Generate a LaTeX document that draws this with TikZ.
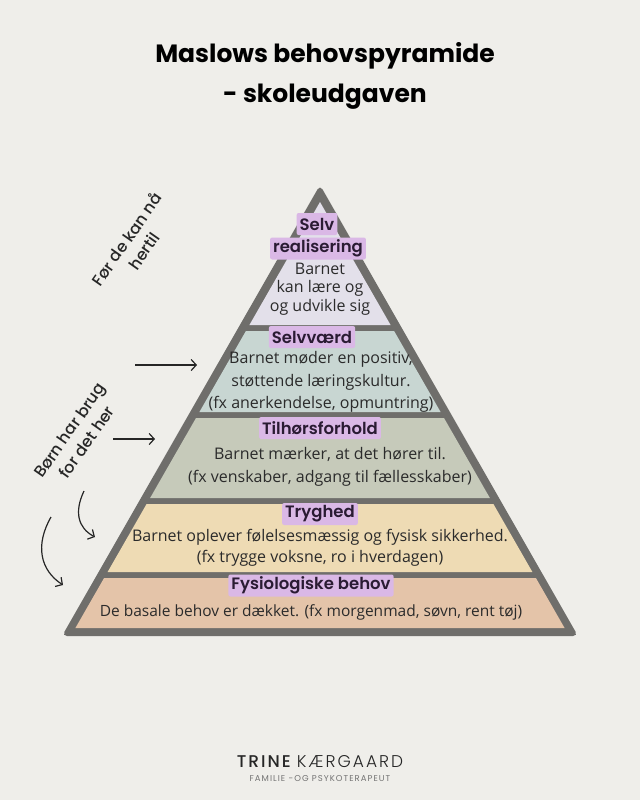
\documentclass[tikz,border=0pt]{standalone}
\usepackage{fontspec}
\setmainfont{Open Sans}
\newfontfamily\popfont{Poppins}
\newfontfamily\headfont{Poppins SemiBold}
\newfontfamily\sidefont{Poppins Medium}
\newfontfamily\footfont{Poppins Light}[LetterSpace=12]
\newfontfamily\footbold{Poppins Medium}[LetterSpace=12]
\newfontfamily\footsmall{Poppins}[LetterSpace=12]
\usetikzlibrary{arrows.meta}
\definecolor{bg}{HTML}{EFEEEA}
\definecolor{framec}{HTML}{6F6E6B}
\definecolor{lay1}{HTML}{E3E0EA}
\definecolor{lay2}{HTML}{C8D6D2}
\definecolor{lay3}{HTML}{C6CABA}
\definecolor{lay4}{HTML}{EEDBB4}
\definecolor{lay5}{HTML}{E4C4A9}
\definecolor{hl}{HTML}{DAB8E6}
\definecolor{headtxt}{HTML}{2A1B33}
\definecolor{bodytxt}{HTML}{2B2B2B}
\begin{document}
\begin{tikzpicture}[x=1pt,y=-1pt,
  head/.style={fill=hl, rounded corners=2pt, inner xsep=3pt, inner ysep=2pt, text=headtxt,
    font=\headfont\fontsize{16.5}{19}\selectfont, minimum height=22pt},
  body/.style={align=center, text=bodytxt, font=\fontsize{16}{22.5}\selectfont, inner sep=0pt},
  side/.style={align=center, text=black!85, font=\sidefont\fontsize{16}{21}\selectfont, rotate=55, inner sep=0pt},
  arr/.style={-{Straight Barb[length=5pt,width=11pt]}, line width=1.2pt, black!85}
]
\fill[bg] (0,0) rectangle (640,800);
\useasboundingbox (0,0) rectangle (640,800);

% title
\node[font=\popfont\bfseries\fontsize{25}{30}\selectfont, anchor=base] (t1) at (325,63) {Maslows behovspyramide};
\node[font=\popfont\bfseries\fontsize{25}{30}\selectfont, anchor=base] (t2) at (325,102) {- skoleudgaven};

% pyramid frame and layers
\fill[framec, rounded corners=5pt] (320,185) -- (62,636) -- (578,636) -- cycle;
\fill[lay1] (320,202) -- (249.4,325) -- (390.6,325) -- cycle;
\fill[lay2] (245.9,331) -- (199.4,412) -- (440.6,412) -- (394.1,331) -- cycle;
\fill[lay3] (196.0,418) -- (150.1,498) -- (489.9,498) -- (444.0,418) -- cycle;
\fill[lay4] (146.6,504) -- (107.6,572) -- (532.4,572) -- (493.4,504) -- cycle;
\fill[lay5] (104.1,578) -- (75.4,628) -- (564.6,628) -- (535.9,578) -- cycle;

% layer 1
\node[head] (h1a) at (317,224) {Selv};
\node[head] (h1b) at (318,248.5) {realisering};
\node[body, font=\fontsize{16}{18.5}\selectfont] (b1) at (320,289) {Barnet\\kan lære og\\og udvikle sig};
% layer 2
\node[head] (h2) at (312,337) {Selvværd};
\node[body] (b2) at (321,382) {Barnet møder en positiv,\\støttende læringskultur.\\(fx anerkendelse, opmuntring)};
% layer 3
\node[head] (h3) at (320,428) {Tilhørsforhold};
\node[body, font=\fontsize{16}{23}\selectfont] (b3) at (330,467) {Barnet mærker, at det hører til.\\(fx venskaber, adgang til fællesskaber)};
% layer 4
\node[head] (h4) at (320,514) {Tryghed};
\node[body, font=\fontsize{16}{21.5}\selectfont] (b4) at (320,548) {Barnet oplever følelsesmæssig og fysisk sikkerhed.\\(fx trygge voksne, ro i hverdagen)};
% layer 5
\node[head] (h5) at (311,585.5) {Fysiologiske behov};
\node[body, font=\fontsize{15.5}{20}\selectfont] (b5) at (311,612) {De basale behov er dækket. (fx morgenmad, søvn, rent tøj)};

% side notes
\node[side] (s1) at (135,245) {Før de kan nå\\hertil};
\node[side] (s2) at (78,436) {Børn har brug\\for det her};

% arrows
\coordinate (a1s) at (135,365); \coordinate (a1e) at (197,365);
\coordinate (a2s) at (113,439); \coordinate (a2e) at (155,439);
\coordinate (a3s) at (84,491);  \coordinate (a3e) at (95,537);
\coordinate (a4s) at (51,517);  \coordinate (a4e) at (63,585);
\draw[arr] (a1s) -- (a1e);
\draw[arr] (a2s) -- (a2e);
\draw[arr] (a3s) .. controls (74,512) and (78,528) .. (a3e);
\draw[arr] (a4s) .. controls (35,545) and (40,570) .. (a4e);

% footer
\node[anchor=base, text=black!85, inner sep=0pt] (f1) at (320,767) {\fontsize{17}{19}\selectfont{\footbold TRINE}\hspace{6pt}{\footfont KÆRGAARD}};
\node[anchor=base, text=black!55, inner sep=0pt] (f2) at (320,781) {\footsmall\fontsize{8.5}{10}\selectfont FAMILIE -OG PSYKOTERAPEUT};
\end{tikzpicture}
\end{document}
